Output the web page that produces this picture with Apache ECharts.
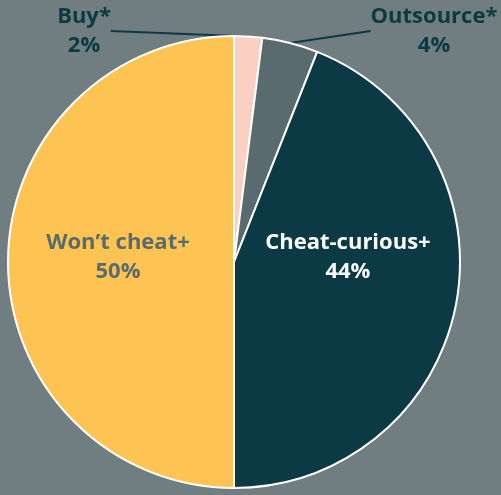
<!DOCTYPE html>
<html><head><meta charset="utf-8">
<script src="https://cdn.jsdelivr.net/npm/echarts@6/dist/echarts.min.js"></script>
<style>html,body{margin:0;padding:0;background:#707e81;}#c{width:501px;height:495px;}</style>
</head><body><div id="c"></div>
<script>
const categories = ["Buy*", "Outsource*", "Cheat-curious+", "Won\u2019t cheat+"];
const values = [2, 4, 44, 50];
const colors = ["#f9d0c2", "#5a6b6f", "#0b3a44", "#fdc453"];
const labelColors = ["#0b3a44", "#0b3a44", "#ffffff", "#5a6b70"];
const outsideSpots = {0: [84, 31], 1: [434, 31]};

const chart = echarts.init(document.getElementById('c'));
const data = categories.map((c, i) => {
  const d = {name: c, value: values[i], itemStyle: {color: colors[i]}};
  if (i < 2) {
    d.label = {position: 'outside', color: labelColors[i]};
    d.labelLine = {show: true, length: 1, length2: 0, lineStyle: {color: '#0b3a44', width: 2}};
  } else {
    d.label = {position: 'inside', color: labelColors[i], offset: i === 2 ? [0, -27] : [0, -5]};
  }
  return d;
});
chart.setOption({
  backgroundColor: '#707e81',
  animation: false,
  series: [{
    type: 'pie',
    center: [234, 262],
    radius: [0, 226],
    startAngle: 90,
    clockwise: true,
    avoidLabelOverlap: false,
    itemStyle: {borderColor: '#ffffff', borderWidth: 2},
    label: {
      show: true,
      formatter: p => p.name + '\n' + p.value + '%',
      fontFamily: 'Open Sans',
      fontWeight: 'bold',
      fontSize: 22,
      lineHeight: 29,
      align: 'center'
    },
    labelLayout: function (p) {
      const s = outsideSpots[p.dataIndex];
      if (s) return {x: s[0], y: s[1], align: 'center', verticalAlign: 'middle'};
      return {};
    },
    data: data
  }]
});
</script></body></html>
